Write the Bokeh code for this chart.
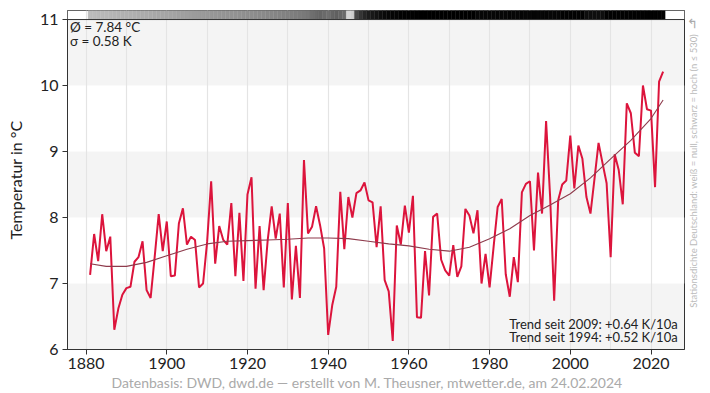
import numpy as np
from bokeh.plotting import figure
from bokeh.layouts import row
from bokeh.models import Range1d, FixedTicker, Label, Span, Title
from bokeh.embed import file_html
from bokeh.resources import INLINE

# ---------------- data ----------------
years = list(range(1881, 2024))
temps = [
    7.13, 7.75, 7.34, 8.05, 7.49, 7.71, 6.30, 6.62, 6.83, 6.93,   # 1881-1890
    6.95, 7.33, 7.40, 7.64, 6.90, 6.78, 7.40, 8.05, 7.49, 7.94,   # 1891-1900
    7.11, 7.12, 7.91, 8.14, 7.59, 7.71, 7.66, 6.94, 7.00, 7.63,   # 1901-1910
    8.55, 7.30, 7.87, 7.66, 7.59, 8.22, 7.11, 8.07, 7.04, 8.35,   # 1911-1920
    8.61, 6.92, 7.87, 6.90, 7.65, 8.17, 7.68, 8.06, 6.94, 8.22,   # 1921-1930
    6.76, 7.57, 6.78, 8.87, 7.76, 7.86, 8.17, 7.88, 7.53, 6.22,   # 1931-1940
    6.67, 6.95, 8.39, 7.52, 8.31, 8.00, 8.37, 8.41, 8.53, 8.26,   # 1941-1950
    8.23, 7.55, 8.17, 7.05, 6.88, 6.13, 7.88, 7.59, 8.18, 7.77,   # 1951-1960
    8.33, 6.49, 6.48, 7.49, 6.82, 8.01, 8.06, 7.36, 7.20, 7.12,   # 1961-1970
    7.58, 7.10, 7.26, 8.13, 8.03, 7.76, 8.11, 7.00, 7.45, 6.94,   # 1971-1980
    7.56, 8.16, 8.28, 7.14, 6.80, 7.40, 7.02, 8.38, 8.51, 8.55,   # 1981-1990
    7.50, 8.68, 8.06, 9.46, 8.31, 6.74, 8.26, 8.50, 8.56, 9.24,   # 1991-2000
    8.44, 9.09, 8.89, 8.31, 8.06, 8.59, 9.13, 8.82, 8.52, 7.40,   # 2001-2010
    8.96, 8.72, 8.20, 9.73, 9.58, 8.98, 8.93, 10.00, 9.64, 9.62,  # 2011-2020
    8.46, 10.06, 10.21,                                           # 2021-2023
]

smooth_years = [1881, 1885, 1890, 1895, 1900, 1905, 1910, 1915, 1920, 1925,
                1930, 1935, 1940, 1945, 1950, 1955, 1960, 1965, 1970, 1975,
                1980, 1985, 1990, 1995, 2000, 2005, 2010, 2015, 2020, 2023]
smooth_vals = [7.30, 7.26, 7.26, 7.32, 7.42, 7.52, 7.60, 7.64, 7.65, 7.66,
               7.67, 7.69, 7.69, 7.68, 7.64, 7.60, 7.57, 7.52, 7.49, 7.55,
               7.68, 7.83, 8.03, 8.19, 8.36, 8.60, 8.89, 9.17, 9.50, 9.78]

# station density (number of stations, max 530)
stations = [
    140, 142, 145, 148, 150, 152, 155, 157, 160, 162,   # 1881-1890
    165, 167, 170, 172, 175, 177, 180, 182, 185, 187,   # 1891-1900
    190, 192, 195, 197, 200, 202, 205, 207, 210, 212,   # 1901-1910
    215, 217, 219, 221, 223, 225, 227, 229, 231, 233,   # 1911-1920
    235, 238, 241, 244, 247, 250, 253, 256, 259, 262,   # 1921-1930
    266, 270, 274, 278, 282, 300, 310, 320, 310, 300,   # 1931-1940
    320, 330, 320, 310, 90, 100, 380, 420, 450, 470,    # 1941-1950
    480, 490, 500, 510, 515, 520, 520, 525, 525, 525,   # 1951-1960
    525, 528, 530, 530, 530, 530, 530, 530, 530, 530,   # 1961-1970
    530, 530, 530, 530, 530, 530, 515, 515, 515, 515,   # 1971-1980
    515, 520, 515, 515, 520, 515, 515, 520, 515, 515,   # 1981-1990
    520, 515, 515, 520, 515, 515, 515, 525, 525, 525,   # 1991-2000
    525, 525, 525, 500, 500, 500, 500, 500, 525, 525,   # 2001-2010
    525, 525, 525, 525, 525, 525, 525, 525, 525, 525,   # 2011-2020
    525, 525, 525,                                      # 2021-2023
]
station_max = 530

y_ticks = [6, 7, 8, 9, 10, 11]
x_ticks = [1880, 1900, 1920, 1940, 1960, 1980, 2000, 2020]
x_grid = [1880, 1890, 1900, 1910, 1920, 1930, 1940, 1950, 1960, 1970,
          1980, 1990, 2000, 2010, 2020]

mean_text = "Ø = 7.84 °C"
sigma_text = "σ = 0.58 K"
trend_texts = ["Trend seit 2009: +0.64 K/10a", "Trend seit 1994: +0.52 K/10a"]
y_label = "Temperatur in °C"
side_text = "Stationsdichte Deutschland: weiß = null, schwarz = hoch (n ≤ 530)"
caption = "Datenbasis: DWD, dwd.de — erstellt von M. Theusner, mtwetter.de, am 24.02.2024"

# ---------------- styling ----------------
FONT = "Lato"
Y_TOP = 11.137
X0, X1 = 1875.4, 2028.3

p = figure(width=685, height=393, output_backend="svg", toolbar_location=None,
           x_range=Range1d(X0, X1), y_range=Range1d(6, Y_TOP),
           min_border_left=67, min_border_right=1, min_border_top=10,
           min_border_bottom=44)
p.background_fill_color = "#f4f4f4"
p.border_fill_color = "white"
p.outline_line_color = "#333333"
p.outline_line_width = 1

# axes
for ax in (p.xaxis[0], p.yaxis[0]):
    ax.axis_line_color = "#333333"
    ax.major_tick_line_color = "#333333"
    ax.major_tick_out = 5
    ax.major_tick_in = 0
    ax.minor_tick_out = 0
    ax.minor_tick_in = 0
    ax.major_label_text_font = FONT
    ax.major_label_text_font_size = "16px"
    ax.major_label_text_color = "#222222"
    ax.major_label_standoff = 4
p.xaxis.major_label_standoff = 3

p.xaxis.ticker = FixedTicker(ticks=x_ticks)
p.yaxis.ticker = FixedTicker(ticks=y_ticks)
p.yaxis.bounds = (6, 11)
p.yaxis.axis_label = y_label
p.yaxis.axis_label_text_font = FONT
p.yaxis.axis_label_text_font_size = "16px"
p.yaxis.axis_label_text_font_style = "normal"
p.yaxis.axis_label_text_color = "#222222"
p.yaxis.axis_label_standoff = 12

# grids: grey background, every other band white
p.xgrid.ticker = FixedTicker(ticks=x_grid)
p.xgrid.grid_line_color = "#e4e4e4"
p.xgrid.grid_line_width = 1.2
p.ygrid.ticker = FixedTicker(ticks=y_ticks)
p.ygrid.grid_line_color = None
p.ygrid.band_fill_color = "white"
p.ygrid.band_fill_alpha = 1.0
p.ygrid.level = "image"

# station-density bar
grays = [int(round(255 * (1 - n / station_max))) for n in stations]
colors = ["#%02x%02x%02x" % (g, g, g) for g in grays]
left = [y - 0.5 for y in years]
right = [y + 0.5 for y in years]
p.quad(left=left, right=right, bottom=11, top=Y_TOP, fill_color=colors,
       line_color=colors, line_width=0.4)
p.add_layout(Span(location=11, dimension="width", line_color="#333333", line_width=1))

# series
p.line(years, temps, line_color="#dc143c", line_width=2)
p.line(smooth_years, smooth_vals, line_color="#8e3b4c", line_width=1.1)

# texts inside the frame
def lab(fig, x, y, t, **kw):
    d = dict(text_font=FONT, text_font_size="13px", text_color="#222222",
             text_baseline="middle")
    d.update(kw)
    fig.add_layout(Label(x=x, y=y, text=t, **d))

lab(p, 1876.0, 10.88, mean_text, text_font_size="13.5px")
lab(p, 1876.0, 10.67, sigma_text, text_font_size="13.5px")
lab(p, 2026.6, 6.39, trend_texts[0], text_align="right")
lab(p, 2026.6, 6.19, trend_texts[1], text_align="right")

# caption below the axis
p.add_layout(Title(text=caption, align="left", offset=44, text_font=FONT,
                   text_font_size="14px", text_font_style="normal",
                   text_color="#aaaaaa", standoff=0), "below")

# narrow side panel with the vertical note (pixel coordinates, y downwards)
p2 = figure(width=25, height=393, output_backend="svg", toolbar_location=None,
            x_range=Range1d(0, 25), y_range=Range1d(393, 0), min_border=0,
            x_axis_location=None, y_axis_location=None)
p2.outline_line_color = None
p2.grid.visible = False
p2.background_fill_color = "white"
p2.border_fill_color = "white"
lab(p2, 8, 186, side_text, text_align="center", text_color="#bbbbbb",
    text_font_size="9.5px", angle=np.pi / 2)
lab(p2, 7, 15, "↰", text_align="center", text_color="#aaaaaa",
    text_font="DejaVu Sans", text_font_size="13px")

layout = row(p, p2)
open("out.html", "w").write(file_html(layout, INLINE))
